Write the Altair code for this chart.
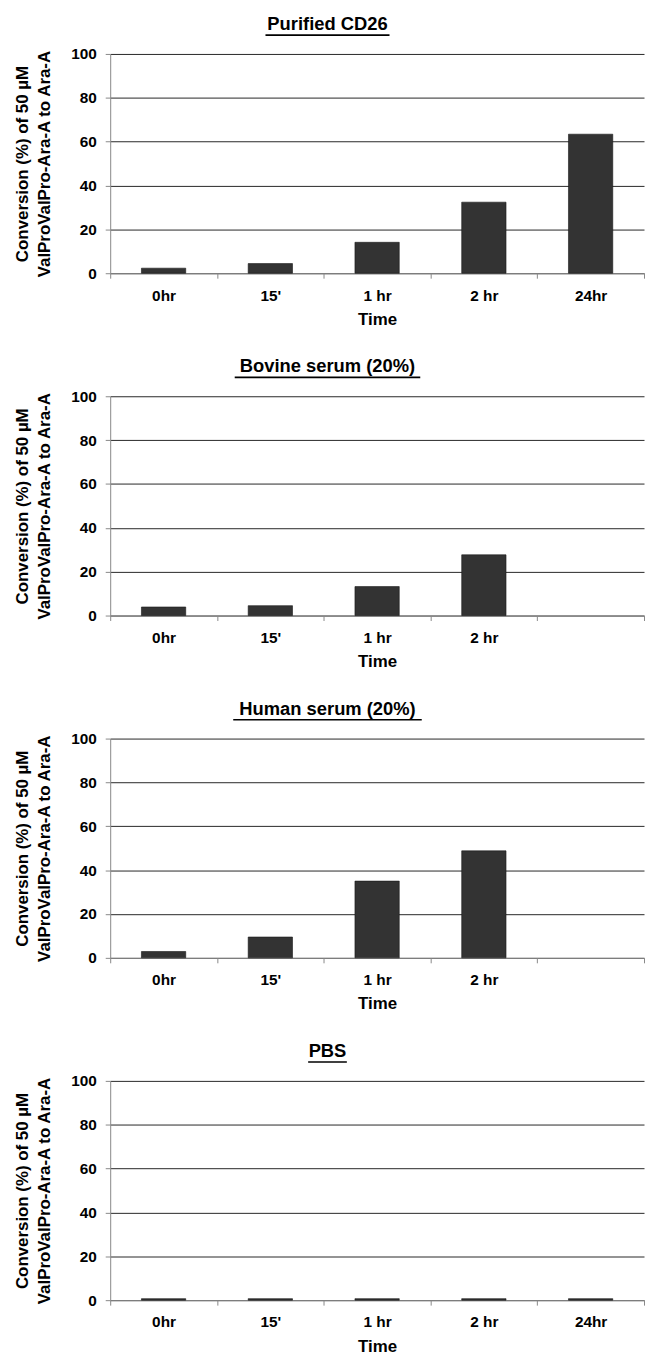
import altair as alt
import pandas as pd

# ---- data ----
times = ["0hr", "15'", "1 hr", "2 hr", "24hr"]
panel_titles = ["Purified CD26", "Bovine serum (20%)", "Human serum (20%)", "PBS"]
purified_cd26 = [2.3, 4.4, 14.1, 32.4, 63.4]
bovine_serum = [3.9, 4.5, 13.2, 27.7, None]
human_serum = [2.9, 9.5, 35.0, 48.8, None]
pbs = [0.7, 0.7, 0.7, 0.7, 0.7]
series = [purified_cd26, bovine_serum, human_serum, pbs]
y_title = ["Conversion (%)  of 50 µM", "ValProValPro-Ara-A  to  Ara-A"]
x_title = "Time"
y_ticks = [0, 20, 40, 60, 80, 100]

# ---- style ----
PW = 538
PH = 221
FONT = "Liberation Sans"
underline_widths = [125, 187, 190, 39]
title_cx = 219


def panel(title, values, uw):
    df = pd.DataFrame({"Time": times, "Conversion": values})
    missing = [t for t, v in zip(times, values) if v is None]
    if missing:
        cond = " || ".join([f"datum.label == '{m}'" for m in missing])
        label_expr = f"({cond}) ? '' : datum.label"
    else:
        label_expr = "datum.label"

    bars = alt.Chart(df).mark_bar(
        color="#333333", stroke="#1a1a1a", strokeWidth=0.6, width={"band": 0.415}
    ).encode(
        x=alt.X(
            "Time:N",
            sort=times,
            scale=alt.Scale(domain=times, paddingInner=0, paddingOuter=0),
            axis=alt.Axis(
                title=x_title,
                labelAngle=0,
                tickBand="extent",
                labelExpr=label_expr,
                labelPadding=10,
                titlePadding=8,
            ),
        ),
        y=alt.Y(
            "Conversion:Q",
            scale=alt.Scale(domain=[0, 100]),
            axis=alt.Axis(
                title=y_title,
                values=y_ticks,
                grid=True,
                labelPadding=9,
                titlePadding=17,
            ),
        ),
    )
    tdf = pd.DataFrame({"t": [title]})
    ttl = alt.Chart(tdf).mark_text(
        font=FONT, fontSize=18.5, fontWeight="bold", color="black", baseline="middle"
    ).encode(text="t:N", x=alt.value(title_cx), y=alt.value(-30))
    line = alt.Chart(tdf).mark_rule(color="black", strokeWidth=1.6).encode(
        x=alt.value(title_cx - uw / 2), x2=alt.value(title_cx + uw / 2), y=alt.value(-19)
    )
    return alt.layer(ttl, line, bars).properties(width=PW, height=PH)


panels = [panel(t, v, u) for t, v, u in zip(panel_titles, series, underline_widths)]

chart = alt.vconcat(*panels, spacing=30).properties(
    padding={"left": 6, "top": 2, "right": 0, "bottom": 0}
).configure_view(stroke=None).configure_axis(
    domainColor="#888888",
    tickColor="#888888",
    tickSize=5,
    gridColor="#000000",
    gridWidth=1,
    gridOpacity=0.85,
    labelFont=FONT,
    labelFontSize=15.5,
    labelFontWeight="bold",
    labelColor="black",
    titleFont=FONT,
    titleFontSize=17,
    titleFontWeight="bold",
    titleColor="black",
    titleLineHeight=22,
)

chart.save("out.html", embed_options={"renderer": "svg", "actions": False})
